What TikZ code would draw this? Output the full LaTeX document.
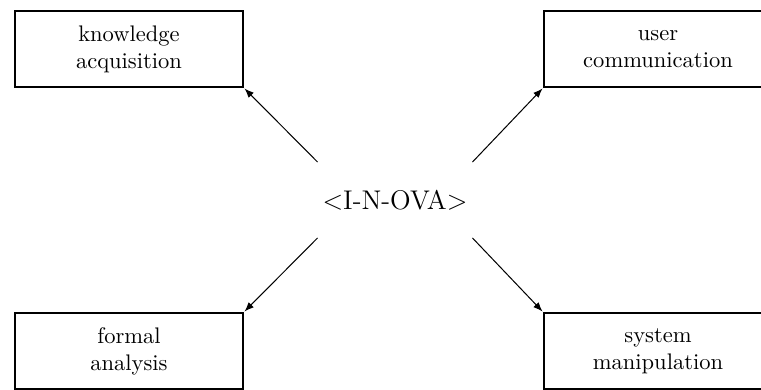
\documentclass[tikz,border=0pt]{standalone}
\usepackage{tikz}
\usetikzlibrary{shapes, arrows.meta, positioning}

\begin{document}
\begin{tikzpicture}[x=0.444pt, y=-0.444pt,
    box/.style={draw, rectangle, line width=1.3pt, minimum width=228*0.444pt, minimum height=76*0.444pt, align=center, inner sep=0pt},
    link/.style={-{Latex[length=4.2pt, width=3.2pt]}, line width=0.45pt}]
    \useasboundingbox (0,0) rectangle (761,390);
    \clip (0,0) rectangle (761,390);
    % Centre
    \node [minimum width=154*0.444pt, minimum height=75*0.444pt, inner sep=0pt, font=\large] (inova) at (395,200) {$<$I-N-OVA$>$};
    
    % Tasks
    \node [box] (knowledge) at (129,49) {knowledge\\acquisition};
    \node [box] (user) at (658,49) {user\\communication};
    \node [box] (formal) at (129,351) {formal\\analysis};
    \node [box] (system) at (658,351) {system\\manipulation};
    
    % Connections
    \draw[link] (inova.north west) -- (knowledge.south east);
    \draw[link] (inova.north east) -- (user.south west);
    \draw[link] (inova.south west) -- (formal.north east);
    \draw[link] (inova.south east) -- (system.north west);
\end{tikzpicture}
\end{document}
